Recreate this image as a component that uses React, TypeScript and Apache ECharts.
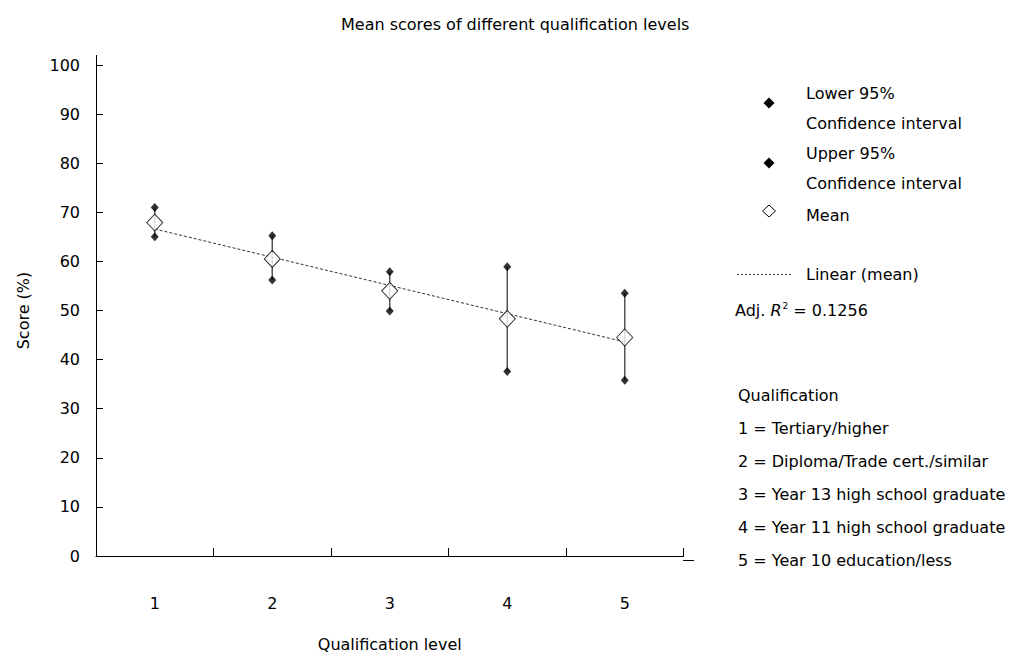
import React, { useEffect, useRef } from "react";
import * as echarts from "echarts";

const categories = ["1", "2", "3", "4", "5"];
const lower95 = [65.0, 56.2, 49.9, 37.6, 35.8];
const upper95 = [71.0, 65.2, 57.9, 58.9, 53.5];
const means = [67.9, 60.5, 54.0, 48.3, 44.5];
const trendMean = [66.6, null, null, null, 43.6];
const yTicks = [0, 10, 20, 30, 40, 50, 60, 70, 80, 90, 100];
const qualificationLegend = [
  "1 = Tertiary/higher",
  "2 = Diploma/Trade cert./similar",
  "3 = Year 13 high school graduate",
  "4 = Year 11 high school graduate",
  "5 = Year 10 education/less",
];

const FONT = "DejaVu Sans";
const FS = 16;

export default function App() {
  const ref = useRef<HTMLDivElement>(null);
  useEffect(() => {
    if (!ref.current) return;
    const chart = echarts.init(ref.current, null, { renderer: "svg" });
    const txt = (x: number, y: number, text: string, extra: any = {}) => ({
      type: "text",
      x,
      y,
      style: {
        text,
        fill: "#000",
        font: `${FS}px '${FONT}'`,
        textVerticalAlign: "middle",
        ...extra,
      },
    });
    const diamond = (cx: number, cy: number, w: number, h: number, filled: boolean) => ({
      type: "polygon",
      shape: {
        points: [
          [cx, cy - h / 2],
          [cx + w / 2, cy],
          [cx, cy + h / 2],
          [cx - w / 2, cy],
        ],
      },
      style: filled ? { fill: "#000" } : { fill: "#fff", stroke: "#000", lineWidth: 1 },
    });
    const graphic: any[] = [
      { type: "line", shape: { x1: 96.5, y1: 55, x2: 96.5, y2: 65 }, style: { stroke: "#000", lineWidth: 1 } },
      { type: "line", shape: { x1: 683, y1: 560.5, x2: 694, y2: 560.5 }, style: { stroke: "#000", lineWidth: 1 } },
      diamond(769, 103, 11, 11, true),
      txt(806, 93, "Lower 95%"),
      txt(806, 123, "Confidence interval"),
      diamond(769, 163, 11, 11, true),
      txt(806, 153, "Upper 95%"),
      txt(806, 183, "Confidence interval"),
      diamond(769, 211, 13, 12, false),
      txt(806, 215, "Mean"),
      {
        type: "line",
        shape: { x1: 737, y1: 274.5, x2: 792, y2: 274.5 },
        style: { stroke: "#333", lineWidth: 1, lineDash: [2, 2] },
      },
      txt(806, 274, "Linear (mean)"),
      {
        type: "text",
        x: 735,
        y: 310,
        style: {
          text: "Adj. {i|R}{sup|2} = 0.1256",
          fill: "#000",
          font: `${FS}px '${FONT}'`,
          textVerticalAlign: "middle",
          rich: {
            i: { fontStyle: "italic", fontFamily: FONT, fontSize: FS, fill: "#000" },
            sup: { fontFamily: FONT, fontSize: 9, verticalAlign: "top", padding: [0, 0, 8, 1], fill: "#000" },
          },
        },
      },
      txt(738, 395, "Qualification"),
      ...qualificationLegend.map((t, i) => txt(738, 428 + i * 33, t)),
    ];

    chart.setOption({
      animation: false,
      textStyle: { fontFamily: FONT },
      title: {
        text: "Mean scores of different qualification levels",
        left: 336,
        top: 11,
        textStyle: { fontFamily: FONT, fontSize: FS, fontWeight: "normal", color: "#000" },
      },
      grid: { left: 96, right: 330.5, top: 65, bottom: 97, containLabel: false },
      xAxis: {
        type: "category",
        data: categories,
        boundaryGap: true,
        name: "Qualification level",
        nameLocation: "middle",
        nameGap: 80,
        nameTextStyle: { fontFamily: FONT, fontSize: FS, color: "#000" },
        axisLine: { lineStyle: { color: "#000", width: 1 } },
        axisTick: { show: true, inside: true, length: 8, lineStyle: { color: "#000" } },
        axisLabel: { margin: 39, fontFamily: FONT, fontSize: FS, color: "#000" },
        splitLine: { show: false },
      },
      yAxis: {
        type: "value",
        min: yTicks[0],
        max: yTicks[yTicks.length - 1],
        interval: 10,
        name: "Score (%)",
        nameLocation: "middle",
        nameGap: 65,
        nameTextStyle: { fontFamily: FONT, fontSize: FS, color: "#000" },
        axisLine: { show: true, lineStyle: { color: "#000", width: 1 } },
        axisTick: { show: true, inside: true, length: 7, lineStyle: { color: "#000" } },
        axisLabel: { margin: 16, fontFamily: FONT, fontSize: FS, color: "#000" },
        splitLine: { show: false },
      },
      series: [
        {
          type: "custom",
          z: 1,
          data: categories.map((_, i) => [i, lower95[i], upper95[i]]),
          renderItem: (params: any, api: any) => {
            const p1 = api.coord([api.value(0), api.value(1)]);
            const p2 = api.coord([api.value(0), api.value(2)]);
            return {
              type: "line",
              shape: { x1: p1[0], y1: p1[1], x2: p2[0], y2: p2[1] },
              style: { stroke: "#555", lineWidth: 1.5 },
            };
          },
        },
        {
          type: "line",
          z: 2,
          data: trendMean,
          connectNulls: true,
          symbol: "none",
          lineStyle: { color: "#333", width: 1, type: [3, 2] },
        },
        {
          type: "scatter",
          z: 3,
          data: lower95,
          symbol: "diamond",
          symbolSize: [8, 9],
          itemStyle: { color: "#000" },
        },
        {
          type: "scatter",
          z: 3,
          data: upper95,
          symbol: "diamond",
          symbolSize: [8, 9],
          itemStyle: { color: "#000" },
        },
        {
          type: "scatter",
          z: 4,
          data: means,
          symbol: "diamond",
          symbolSize: [16, 17],
          itemStyle: { color: "#fff", borderColor: "#000", borderWidth: 1 },
        },
      ],
      graphic,
    });
    return () => chart.dispose();
  }, []);
  return (
    <div
      ref={ref}
      style={{ position: "absolute", left: 0, top: 0, width: 1014, height: 657, background: "#fff" }}
    />
  );
}
